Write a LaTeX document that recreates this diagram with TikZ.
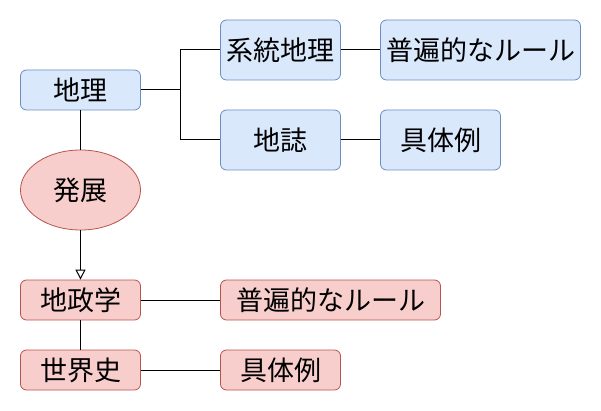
\documentclass[tikz,border=0pt]{standalone}
\usepackage{fontspec}
\newfontfamily\jpfont{Noto Sans CJK JP}
\usetikzlibrary{shapes.geometric}
\usetikzlibrary{arrows.meta}
\definecolor{blueFill}{HTML}{DAE8FC}
\definecolor{blueLine}{HTML}{6C8EBF}
\definecolor{redFill}{HTML}{F8CECC}
\definecolor{redLine}{HTML}{B85450}
\tikzstyle{bluebox}=[rectangle,rounded corners=6pt,fill=blueFill,draw=blueLine,line width=0.8pt,inner sep=0pt,font=\jpfont\fontsize{27}{30}\selectfont]
\tikzstyle{redbox}=[rectangle,rounded corners=6pt,fill=redFill,draw=redLine,line width=0.8pt,inner sep=0pt,font=\jpfont\fontsize{27}{30}\selectfont]
\tikzstyle{redellipse}=[ellipse,fill=redFill,draw=redLine,line width=0.8pt,inner sep=0pt,minimum width=120pt,minimum height=80pt,font=\jpfont\fontsize{27}{30}\selectfont]
\tikzstyle{edge} = [draw,line width=1pt]
\tikzstyle{arrowedge} = [draw,line width=1pt,-{Triangle[open,length=10pt,width=10pt]}]

\begin{document}
\begin{tikzpicture}[x=1pt,y=-1pt]
    \useasboundingbox (0,0) rectangle (601,411);
    % First the blue boxes
    \foreach \pos/\name/\label/\w/\h in {{(80.5,90)/chiri/地理/120/40}, {(280.5,50)/keito/系統地理/120/60}, {(280.5,140)/chishi/地誌/120/60}, {(480.5,50)/futsuA/普遍的なルール/200/60}, {(440.5,140)/gutaiA/具体例/120/60}}
        \node[bluebox,minimum width=\w pt,minimum height=\h pt] (\name) at \pos {\label};

    % Then the red boxes
    \foreach \pos/\name/\label/\w in {{(80.5,300)/chiseigaku/地政学/120}, {(80.5,370)/sekaishi/世界史/120}, {(330.5,300)/futsuB/普遍的なルール/220}, {(280.5,370)/gutaiB/具体例/120}}
        \node[redbox,minimum width=\w pt,minimum height=40pt] (\name) at \pos {\label};

    \node[redellipse] (hatten) at (80.5,190) {発展};
    \coordinate (fork) at (180.5,90);

    % Connect boxes with edges
    \draw[edge] (chiri) -- (fork);
    \foreach \dest in {keito, chishi}
        \draw[edge] (fork) |- (\dest);
    \foreach \source/\dest in {keito/futsuA, chishi/gutaiA, chiri/hatten, chiseigaku/sekaishi, chiseigaku/futsuB, sekaishi/gutaiB}
        \draw[edge] (\source) -- (\dest);
    \draw[arrowedge] (hatten) -- (chiseigaku);
\end{tikzpicture}
\end{document}
